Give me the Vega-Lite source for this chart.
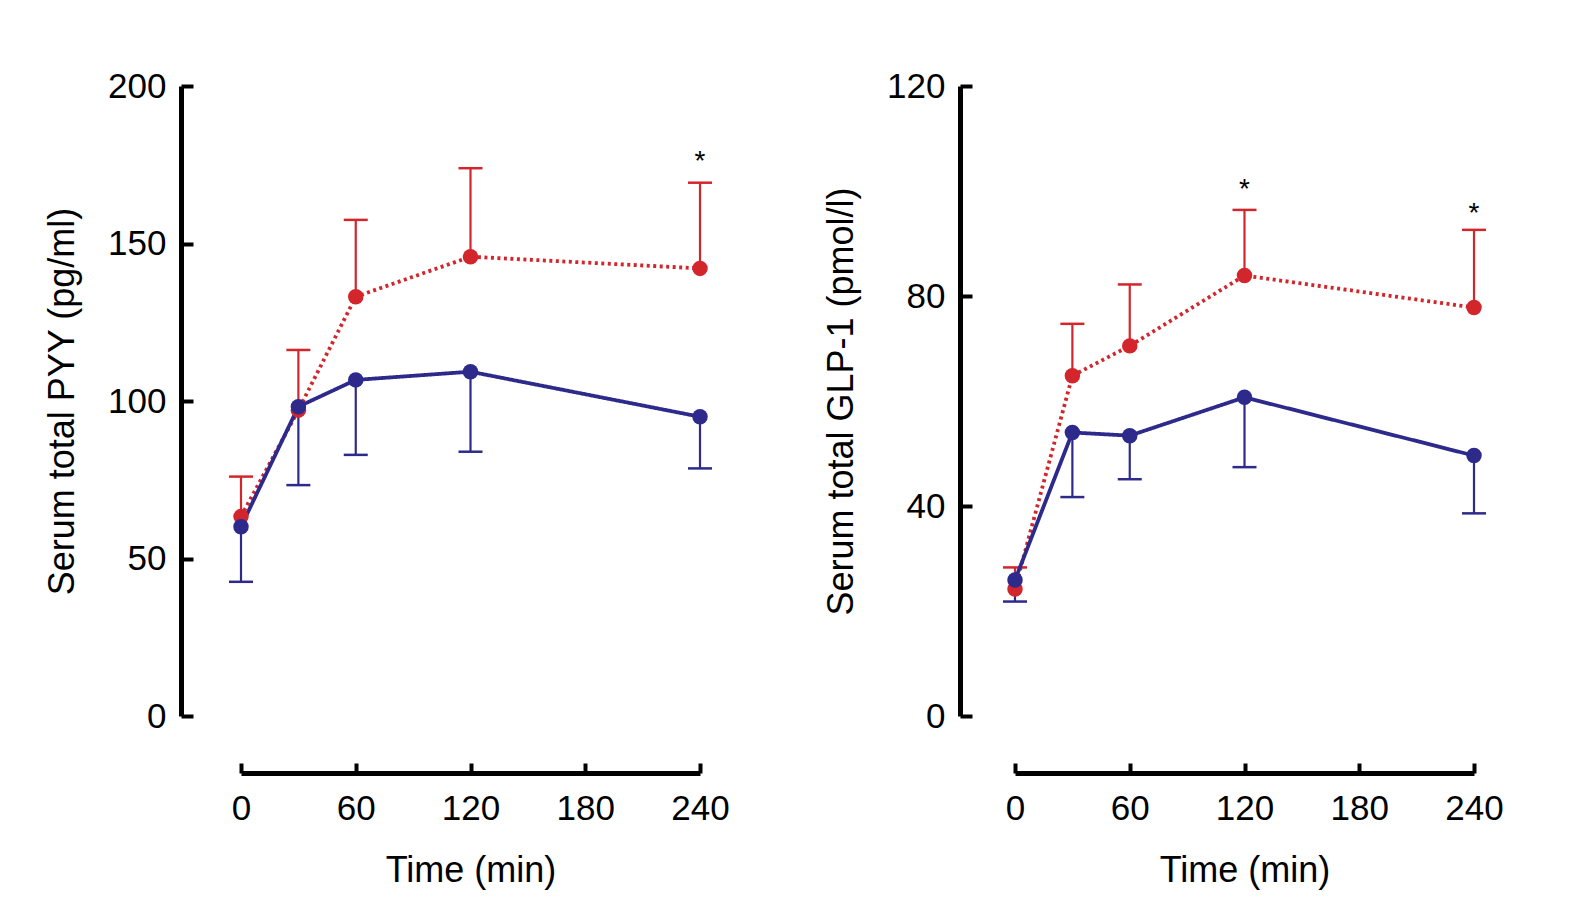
{
  "$schema": "https://vega.github.io/schema/vega-lite/v6.json",
  "background": "white",
  "padding": {"left": 44, "top": 69, "right": 10, "bottom": 10},
  "spacing": 93,
  "config": {
    "font": "Liberation Sans",
    "view": {"stroke": null},
    "axis": {
      "grid": false,
      "domainColor": "black",
      "domainWidth": 5,
      "tickColor": "black",
      "tickWidth": 4,
      "labelColor": "black",
      "titleColor": "black",
      "labelFont": "Liberation Sans",
      "titleFont": "Liberation Sans",
      "labelFontSize": 35,
      "titleFontSize": 36,
      "titleFontWeight": "normal"
    },
    "axisX": {"offset": 57, "tickSize": -10, "labelPadding": 28, "titlePadding": 27, "labelFlush": false},
    "axisY": {"tickSize": -12, "labelPadding": 27, "titlePadding": 26}
  },
  "datasets": {
    "pyy": [
      {"time": 0, "group": "A", "mean": 63.3, "err": 76.0},
      {"time": 30, "group": "A", "mean": 97.1, "err": 116.2},
      {"time": 60, "group": "A", "mean": 133.1, "err": 157.5},
      {"time": 120, "group": "A", "mean": 145.8, "err": 173.9},
      {"time": 240, "group": "A", "mean": 142.1, "err": 169.3},
      {"time": 0, "group": "B", "mean": 60.1, "err": 42.6},
      {"time": 30, "group": "B", "mean": 98.2, "err": 73.3},
      {"time": 60, "group": "B", "mean": 106.7, "err": 82.9},
      {"time": 120, "group": "B", "mean": 109.3, "err": 83.9},
      {"time": 240, "group": "B", "mean": 95.0, "err": 78.6}
    ],
    "glp": [
      {"time": 0, "group": "A", "mean": 24.2, "err": 28.3},
      {"time": 30, "group": "A", "mean": 64.8, "err": 74.7},
      {"time": 60, "group": "A", "mean": 70.5, "err": 82.2},
      {"time": 120, "group": "A", "mean": 83.9, "err": 96.4},
      {"time": 240, "group": "A", "mean": 77.8, "err": 92.6},
      {"time": 0, "group": "B", "mean": 25.9, "err": 21.8},
      {"time": 30, "group": "B", "mean": 54.0, "err": 41.7},
      {"time": 60, "group": "B", "mean": 53.4, "err": 45.1},
      {"time": 120, "group": "B", "mean": 60.7, "err": 47.4},
      {"time": 240, "group": "B", "mean": 49.6, "err": 38.6}
    ],
    "pyy_sig": [
      {"time": 240, "pos": 178.4, "label": "*"}
    ],
    "glp_sig": [
      {"time": 120, "pos": 101.7, "label": "*"},
      {"time": 240, "pos": 97.2, "label": "*"}
    ]
  },
  "hconcat": [
    {
      "width": 459,
      "height": 630,
      "data": {"name": "pyy"},
      "encoding": {
        "x": {"field": "time", "type": "quantitative", "title": "Time (min)",
              "scale": {"domain": [0, 240]}, "axis": {"values": [0, 60, 120, 180, 240]}},
        "y": {"field": "mean", "type": "quantitative", "title": "Serum total PYY (pg/ml)",
              "scale": {"domain": [0, 200]}, "axis": {"values": [0, 50, 100, 150, 200], "offset": 60}},
        "color": {"field": "group", "type": "nominal", "legend": null,
                  "scale": {"domain": ["A", "B"], "range": ["#d3262c", "#2d2a8c"]}}
      },
      "layer": [
        {"mark": {"type": "rule", "strokeWidth": 2.2}, "encoding": {"y2": {"field": "err"}}},
        {"mark": {"type": "tick", "orient": "horizontal", "size": 24, "thickness": 2.5, "opacity": 1},
         "encoding": {"y": {"field": "err", "type": "quantitative", "title": "Serum total PYY (pg/ml)",
                            "scale": {"domain": [0, 200]}, "axis": {"values": [0, 50, 100, 150, 200], "offset": 60}}}},
        {"mark": {"type": "line", "strokeWidth": 3.8},
         "encoding": {"strokeDash": {"field": "group", "type": "nominal", "legend": null,
                                     "scale": {"domain": ["A", "B"], "range": [[3, 3.5], [1, 0]]}}}},
        {"mark": {"type": "point", "filled": true, "size": 240, "opacity": 1}},
        {"data": {"name": "pyy_sig"},
         "mark": {"type": "text", "fontSize": 28, "color": "black", "baseline": "alphabetic", "dy": 16},
         "encoding": {"y": {"field": "pos", "type": "quantitative", "title": "Serum total PYY (pg/ml)",
                            "scale": {"domain": [0, 200]}, "axis": {"values": [0, 50, 100, 150, 200], "offset": 60}},
                      "text": {"field": "label"}, "color": null}}
      ]
    },
    {
      "width": 459,
      "height": 630,
      "data": {"name": "glp"},
      "encoding": {
        "x": {"field": "time", "type": "quantitative", "title": "Time (min)",
              "scale": {"domain": [0, 240]}, "axis": {"values": [0, 60, 120, 180, 240]}},
        "y": {"field": "mean", "type": "quantitative", "title": "Serum total GLP-1 (pmol/l)",
              "scale": {"domain": [0, 120]}, "axis": {"values": [0, 40, 80, 120], "offset": 55}},
        "color": {"field": "group", "type": "nominal", "legend": null,
                  "scale": {"domain": ["A", "B"], "range": ["#d3262c", "#2d2a8c"]}}
      },
      "layer": [
        {"mark": {"type": "rule", "strokeWidth": 2.2}, "encoding": {"y2": {"field": "err"}}},
        {"mark": {"type": "tick", "orient": "horizontal", "size": 24, "thickness": 2.5, "opacity": 1},
         "encoding": {"y": {"field": "err", "type": "quantitative", "title": "Serum total GLP-1 (pmol/l)",
                            "scale": {"domain": [0, 120]}, "axis": {"values": [0, 40, 80, 120], "offset": 55}}}},
        {"mark": {"type": "line", "strokeWidth": 3.8},
         "encoding": {"strokeDash": {"field": "group", "type": "nominal", "legend": null,
                                     "scale": {"domain": ["A", "B"], "range": [[3, 3.5], [1, 0]]}}}},
        {"mark": {"type": "point", "filled": true, "size": 240, "opacity": 1}},
        {"data": {"name": "glp_sig"},
         "mark": {"type": "text", "fontSize": 28, "color": "black", "baseline": "alphabetic", "dy": 16},
         "encoding": {"y": {"field": "pos", "type": "quantitative", "title": "Serum total GLP-1 (pmol/l)",
                            "scale": {"domain": [0, 120]}, "axis": {"values": [0, 40, 80, 120], "offset": 55}},
                      "text": {"field": "label"}, "color": null}}
      ]
    }
  ]
}
